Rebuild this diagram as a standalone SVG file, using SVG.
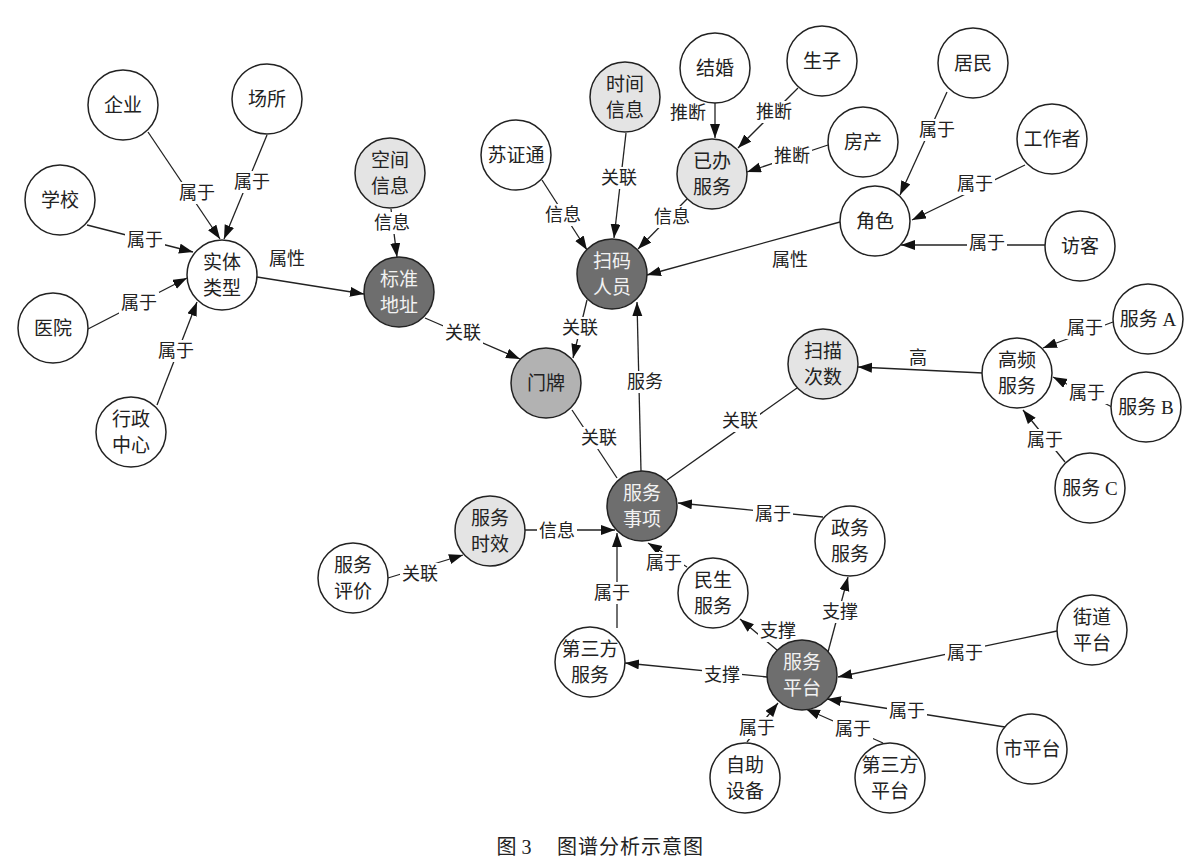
<svg xmlns="http://www.w3.org/2000/svg" width="1200" height="867" viewBox="0 0 1200 867">
<style>
text{font-family:"Liberation Serif","Noto Sans CJK SC",serif;font-size:18px;text-anchor:middle;dominant-baseline:central;fill:#222}
g[id^="n-"] text{font-size:19px}
.c{stroke:#222;stroke-width:1.5}
.w{fill:#fff}
.l{fill:#e4e4e4}
.m{fill:#b2b2b2}
.d{fill:#6e6e6e}
.d+text,.d~text{fill:#f2f2f2}
.e line{stroke:#222;stroke-width:1.3;fill:none}
.e .a{marker-end:url(#ah)}
.bg{fill:#fff}
#caption text{font-size:20px}
</style>
<defs>
<marker id="ah" markerUnits="userSpaceOnUse" markerWidth="15" markerHeight="11" refX="14" refY="5" orient="auto">
<path d="M0,0 L14,5 L0,10 z" fill="#111"/>
</marker>
</defs>
<rect width="1200" height="867" fill="#fff"/>
<g id="connectors" class="e">
<line class="a" x1="148" y1="132" x2="220" y2="239"/>
<line class="a" x1="267" y1="135" x2="224" y2="239"/>
<line class="a" x1="87" y1="225" x2="193" y2="252"/>
<line class="a" x1="88" y1="329" x2="187" y2="278"/>
<line class="a" x1="157" y1="405" x2="197" y2="302"/>
<line class="a" x1="257" y1="277" x2="364" y2="294"/>
<line class="a" x1="391" y1="209" x2="397" y2="257"/>
<line class="a" x1="425" y1="318" x2="520" y2="359"/>
<line class="a" x1="542" y1="180" x2="587" y2="250"/>
<line class="a" x1="626" y1="133" x2="614" y2="238"/>
<line class="a" x1="687" y1="199" x2="638" y2="249"/>
<line class="a" x1="715" y1="103" x2="715" y2="138"/>
<line class="a" x1="798" y1="88" x2="738" y2="148"/>
<line class="a" x1="828" y1="145" x2="747" y2="172"/>
<line class="a" x1="840" y1="222" x2="647" y2="275"/>
<line class="a" x1="587" y1="300" x2="573" y2="358"/>
<line class="a" x1="641" y1="471" x2="637" y2="302"/>
<line x1="572" y1="410" x2="617" y2="478"/>
<line x1="797" y1="388" x2="667" y2="480"/>
<line class="a" x1="983" y1="373" x2="858" y2="367"/>
<line class="a" x1="947" y1="92" x2="900" y2="195"/>
<line class="a" x1="1025" y1="165" x2="912" y2="220"/>
<line class="a" x1="1045" y1="245" x2="901" y2="245"/>
<line class="a" x1="1113" y1="322" x2="1043" y2="348"/>
<line class="a" x1="1112" y1="407" x2="1053" y2="377"/>
<line class="a" x1="1065" y1="462" x2="1023" y2="410"/>
<line class="a" x1="525" y1="530" x2="615" y2="530"/>
<line class="a" x1="388" y1="578" x2="463" y2="555"/>
<line class="a" x1="617" y1="628" x2="617" y2="533"/>
<line class="a" x1="687" y1="567" x2="648" y2="543"/>
<line class="a" x1="823" y1="517" x2="678" y2="503"/>
<line class="a" x1="777" y1="650" x2="740" y2="619"/>
<line class="a" x1="828" y1="652" x2="848" y2="577"/>
<line class="a" x1="767" y1="677" x2="625" y2="663"/>
<line class="a" x1="1057" y1="631" x2="838" y2="677"/>
<line class="a" x1="1005" y1="727" x2="827" y2="699"/>
<line class="a" x1="747" y1="742" x2="778" y2="703"/>
<line class="a" x1="883" y1="743" x2="806" y2="709"/>
</g>
<g id="edge-labels">
<rect class="bg" x="177" y="182" width="40" height="22"/><text x="197" y="193">属于</text>
<rect class="bg" x="232" y="171" width="40" height="22"/><text x="252" y="182">属于</text>
<rect class="bg" x="125" y="229" width="40" height="22"/><text x="145" y="240">属于</text>
<rect class="bg" x="119" y="292" width="40" height="22"/><text x="139" y="303">属于</text>
<rect class="bg" x="156" y="340" width="40" height="22"/><text x="176" y="351">属于</text>
<text x="287" y="259">属性</text>
<rect class="bg" x="372" y="212" width="40" height="22"/><text x="392" y="223">信息</text>
<rect class="bg" x="443" y="322" width="40" height="22"/><text x="463" y="333">关联</text>
<rect class="bg" x="543" y="204" width="40" height="22"/><text x="563" y="215">信息</text>
<rect class="bg" x="599" y="167" width="40" height="22"/><text x="619" y="178">关联</text>
<rect class="bg" x="652" y="206" width="40" height="22"/><text x="672" y="217">信息</text>
<text x="688" y="113">推断</text>
<rect class="bg" x="754" y="101" width="40" height="22"/><text x="774" y="112">推断</text>
<rect class="bg" x="772" y="145" width="40" height="22"/><text x="792" y="156">推断</text>
<text x="790" y="260">属性</text>
<rect class="bg" x="560" y="317" width="40" height="22"/><text x="580" y="328">关联</text>
<rect class="bg" x="625" y="371" width="40" height="22"/><text x="645" y="382">服务</text>
<rect class="bg" x="579" y="427" width="40" height="22"/><text x="599" y="438">关联</text>
<rect class="bg" x="720" y="410" width="40" height="22"/><text x="740" y="421">关联</text>
<text x="918" y="358">高</text>
<rect class="bg" x="917" y="119" width="40" height="22"/><text x="937" y="130">属于</text>
<rect class="bg" x="955" y="173" width="40" height="22"/><text x="975" y="184">属于</text>
<rect class="bg" x="967" y="232" width="40" height="22"/><text x="987" y="243">属于</text>
<rect class="bg" x="1065" y="317" width="40" height="22"/><text x="1085" y="328">属于</text>
<rect class="bg" x="1067" y="382" width="40" height="22"/><text x="1087" y="393">属于</text>
<rect class="bg" x="1025" y="429" width="40" height="22"/><text x="1045" y="440">属于</text>
<rect class="bg" x="537" y="520" width="40" height="22"/><text x="557" y="531">信息</text>
<rect class="bg" x="400" y="563" width="40" height="22"/><text x="420" y="574">关联</text>
<rect class="bg" x="592" y="582" width="40" height="22"/><text x="612" y="593">属于</text>
<rect class="bg" x="644" y="552" width="40" height="22"/><text x="664" y="563">属于</text>
<rect class="bg" x="753" y="503" width="40" height="22"/><text x="773" y="514">属于</text>
<rect class="bg" x="758" y="620" width="40" height="22"/><text x="778" y="631">支撑</text>
<rect class="bg" x="820" y="601" width="40" height="22"/><text x="840" y="612">支撑</text>
<rect class="bg" x="702" y="664" width="40" height="22"/><text x="722" y="675">支撑</text>
<rect class="bg" x="945" y="642" width="40" height="22"/><text x="965" y="653">属于</text>
<rect class="bg" x="887" y="700" width="40" height="22"/><text x="907" y="711">属于</text>
<rect class="bg" x="737" y="717" width="40" height="22"/><text x="757" y="728">属于</text>
<rect class="bg" x="833" y="718" width="40" height="22"/><text x="853" y="729">属于</text>
</g>
<g id="n-qiye"><circle class="c w" cx="123" cy="105" r="35"/><text x="123" y="105">企业</text></g>
<g id="n-changsuo"><circle class="c w" cx="267" cy="99" r="35"/><text x="267" y="99">场所</text></g>
<g id="n-xuexiao"><circle class="c w" cx="60" cy="200" r="35"/><text x="60" y="200">学校</text></g>
<g id="n-shitileixing"><circle class="c w" cx="222" cy="275" r="35"/><text x="222" y="262">实体</text><text x="222" y="288">类型</text></g>
<g id="n-yiyuan"><circle class="c w" cx="53" cy="328" r="35"/><text x="53" y="328">医院</text></g>
<g id="n-xingzhengzhongxin"><circle class="c w" cx="131" cy="432" r="35"/><text x="131" y="419">行政</text><text x="131" y="445">中心</text></g>
<g id="n-kongjianxinxi"><circle class="c l" cx="390" cy="173" r="35"/><text x="390" y="160">空间</text><text x="390" y="186">信息</text></g>
<g id="n-biaozhundizhi"><circle class="c d" cx="399" cy="292" r="35"/><text x="399" y="279">标准</text><text x="399" y="305">地址</text></g>
<g id="n-suzhengtong"><circle class="c w" cx="516" cy="155" r="35"/><text x="516" y="155">苏证通</text></g>
<g id="n-shijianxinxi"><circle class="c l" cx="625" cy="97" r="35"/><text x="625" y="84">时间</text><text x="625" y="110">信息</text></g>
<g id="n-jiehun"><circle class="c w" cx="715" cy="68" r="35"/><text x="715" y="68">结婚</text></g>
<g id="n-shengzi"><circle class="c w" cx="822" cy="61" r="35"/><text x="822" y="61">生子</text></g>
<g id="n-yibanfuwu"><circle class="c l" cx="712" cy="174" r="35"/><text x="712" y="161">已办</text><text x="712" y="187">服务</text></g>
<g id="n-fangchan"><circle class="c w" cx="863" cy="142" r="35"/><text x="863" y="142">房产</text></g>
<g id="n-saomarenyuan"><circle class="c d" cx="612" cy="274" r="35"/><text x="612" y="261">扫码</text><text x="612" y="287">人员</text></g>
<g id="n-menpai"><circle class="c m" cx="546" cy="383" r="35"/><text x="546" y="383">门牌</text></g>
<g id="n-saomiaocishu"><circle class="c l" cx="823" cy="364" r="35"/><text x="823" y="351">扫描</text><text x="823" y="377">次数</text></g>
<g id="n-jumin"><circle class="c w" cx="973" cy="63" r="35"/><text x="973" y="63">居民</text></g>
<g id="n-gongzuozhe"><circle class="c w" cx="1052" cy="139" r="35"/><text x="1052" y="139">工作者</text></g>
<g id="n-juese"><circle class="c w" cx="875" cy="221" r="35"/><text x="875" y="221">角色</text></g>
<g id="n-fangke"><circle class="c w" cx="1080" cy="246" r="35"/><text x="1080" y="246">访客</text></g>
<g id="n-fuwuA"><circle class="c w" cx="1148" cy="319" r="35"/><text x="1148" y="319">服务 A</text></g>
<g id="n-gaopinfuwu"><circle class="c w" cx="1017" cy="373" r="35"/><text x="1017" y="360">高频</text><text x="1017" y="386">服务</text></g>
<g id="n-fuwuB"><circle class="c w" cx="1146" cy="407" r="35"/><text x="1146" y="407">服务 B</text></g>
<g id="n-fuwuC"><circle class="c w" cx="1090" cy="488" r="35"/><text x="1090" y="488">服务 C</text></g>
<g id="n-fuwushixiang"><circle class="c d" cx="642" cy="506" r="35"/><text x="642" y="493">服务</text><text x="642" y="519">事项</text></g>
<g id="n-fuwushixiao"><circle class="c l" cx="490" cy="531" r="35"/><text x="490" y="518">服务</text><text x="490" y="544">时效</text></g>
<g id="n-fuwupingjia"><circle class="c w" cx="353" cy="578" r="35"/><text x="353" y="565">服务</text><text x="353" y="591">评价</text></g>
<g id="n-minshengfuwu"><circle class="c w" cx="713" cy="593" r="35"/><text x="713" y="580">民生</text><text x="713" y="606">服务</text></g>
<g id="n-disanfangfuwu"><circle class="c w" cx="590" cy="662" r="35"/><text x="590" y="649">第三方</text><text x="590" y="675">服务</text></g>
<g id="n-zhengwufuwu"><circle class="c w" cx="850" cy="541" r="35"/><text x="850" y="528">政务</text><text x="850" y="554">服务</text></g>
<g id="n-fuwupingtai"><circle class="c d" cx="802" cy="675" r="35"/><text x="802" y="662">服务</text><text x="802" y="688">平台</text></g>
<g id="n-jiedaopingtai"><circle class="c w" cx="1092" cy="630" r="35"/><text x="1092" y="617">街道</text><text x="1092" y="643">平台</text></g>
<g id="n-shipingtai"><circle class="c w" cx="1032" cy="749" r="35"/><text x="1032" y="749">市平台</text></g>
<g id="n-zizhushebei"><circle class="c w" cx="745" cy="778" r="35"/><text x="745" y="765">自助</text><text x="745" y="791">设备</text></g>
<g id="n-disanfangpingtai"><circle class="c w" cx="890" cy="778" r="35"/><text x="890" y="765">第三方</text><text x="890" y="791">平台</text></g>
<g id="caption"><text x="514" y="847">图 3</text><text x="630" y="847" textLength="146" lengthAdjust="spacing">图谱分析示意图</text></g>
</svg>
